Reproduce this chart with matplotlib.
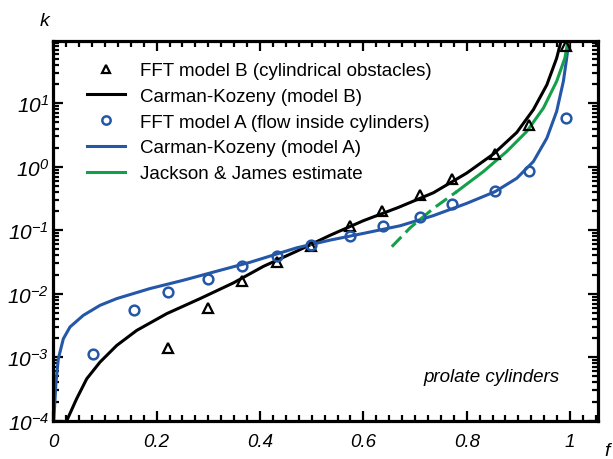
import numpy as np
import matplotlib
matplotlib.use('Agg')
import matplotlib.pyplot as plt
from matplotlib.ticker import MultipleLocator, LogLocator, NullFormatter, FixedLocator, FixedFormatter
from matplotlib.lines import Line2D

plt.rcParams['font.family'] = ['Liberation Sans', 'DejaVu Sans']
plt.rcParams['font.style'] = 'italic'
plt.rcParams['mathtext.fontset'] = 'custom'
plt.rcParams['mathtext.it'] = 'Liberation Sans:italic'
plt.rcParams['mathtext.rm'] = 'Liberation Sans:italic'
plt.rcParams['mathtext.default'] = 'regular'

# FFT results, model B (cylindrical obstacles)
f_fft_b = [0.222, 0.299, 0.365, 0.433, 0.498, 0.575, 0.636, 0.710, 0.772, 0.854, 0.921, 0.993]
k_fft_b = [1.41e-3, 6.0e-3, 1.59e-2, 0.0318, 0.0569, 0.116, 0.200, 0.359, 0.634, 1.57, 4.48, 79.0]

# FFT results, model A (flow inside cylinders)
f_fft_a = [0.076, 0.156, 0.222, 0.299, 0.365, 0.433, 0.498, 0.575, 0.638, 0.710, 0.772, 0.854, 0.921, 0.993]
k_fft_a = [1.13e-3, 5.47e-3, 0.0107, 0.0173, 0.0275, 0.039, 0.058, 0.0798, 0.116, 0.163, 0.256, 0.415, 0.86, 5.83]

# Carman-Kozeny curves (f, log10 k)
f_ck_b = [0.022, 0.026, 0.045, 0.0646, 0.0904, 0.1227, 0.1614, 0.2195, 0.284, 0.3484, 0.4064,
          0.471, 0.5355, 0.6, 0.668, 0.7355, 0.80, 0.8516, 0.8968, 0.929, 0.955, 0.974, 0.984, 0.988]
lk_ck_b = [-4.1, -4.0, -3.657, -3.341, -3.077, -2.815, -2.578, -2.314, -2.077, -1.83, -1.57,
           -1.33, -1.08, -0.85, -0.64, -0.41, -0.10, 0.20, 0.54, 0.90, 1.29, 1.71, 2.03, 2.2]

f_ck_a = [0.0002, 0.0052, 0.0097, 0.0194, 0.0323, 0.058, 0.0904, 0.1227, 0.187, 0.2516, 0.316,
          0.3807, 0.471, 0.5355, 0.6, 0.671, 0.7355, 0.80, 0.855, 0.8968, 0.929, 0.955, 0.974,
          0.987, 0.9935, 0.998, 0.999]
lk_ck_a = [-4.1, -3.393, -3.025, -2.71, -2.524, -2.341, -2.183, -2.077, -1.919, -1.788, -1.646,
           -1.505, -1.277, -1.156, -1.05, -0.93, -0.77, -0.577, -0.392, -0.182, 0.082, 0.45, 0.872,
           1.346, 1.714, 2.03, 2.2]

# Jackson & James estimate (dashed below f ~ 0.78)
f_jj = [0.655, 0.6907, 0.7355, 0.7807, 0.8322, 0.8774, 0.9161, 0.9484, 0.974, 0.99, 0.9968, 0.998]
lk_jj = [-1.26, -0.96, -0.656, -0.392, -0.076, 0.24, 0.556, 0.924, 1.346, 1.714, 2.03, 2.2]
n_dashed = 4

y_decades = [1e-4, 1e-3, 1e-2, 1e-1, 1e0, 1e1]

blue = '#2457a8'
green = '#14a04a'

fig = plt.figure(figsize=(6.13, 4.6), dpi=100)
ax = fig.add_axes([53.3 / 613, 1 - 421.7 / 460, 544.7 / 613, 380 / 460])

ax.plot(f_ck_b, 10 ** np.array(lk_ck_b), color='black', lw=2.2)
ax.plot(f_ck_a, 10 ** np.array(lk_ck_a), color=blue, lw=2.2)
ax.plot(f_jj[:n_dashed], 10 ** np.array(lk_jj[:n_dashed]), color=green, lw=2.2, ls=(0, (4.5, 2)))
ax.plot(f_jj[n_dashed - 1:], 10 ** np.array(lk_jj[n_dashed - 1:]), color=green, lw=2.2)
ax.plot(f_fft_b, k_fft_b, ls='none', marker='^', ms=6.5, mfc='none', mec='black', mew=1.6)
ax.plot(f_fft_a, k_fft_a, ls='none', marker='o', ms=7, mfc='none', mec=blue, mew=1.8)

ax.set_yscale('log')
ax.set_xlim(0, 1.054)
ax.set_ylim(1e-4, 10 ** 1.985)

ax.xaxis.set_major_locator(FixedLocator([0, 0.2, 0.4, 0.6, 0.8, 1.0]))
ax.xaxis.set_major_formatter(FixedFormatter(['0', '0.2', '0.4', '0.6', '0.8', '1']))
ax.xaxis.set_minor_locator(MultipleLocator(0.025))
ax.yaxis.set_major_locator(FixedLocator(y_decades))
ax.yaxis.set_minor_locator(LogLocator(base=10, subs=np.arange(2, 10), numticks=20))
ax.yaxis.set_minor_formatter(NullFormatter())

ax.tick_params(which='both', direction='in', top=True, right=True, width=1.6)
ax.tick_params(which='major', length=7.5)
ax.tick_params(which='minor', length=4.5)
ax.tick_params(axis='x', pad=9, labelsize=13.5)
ax.tick_params(axis='y', pad=3, labelsize=15)
for s in ax.spines.values():
    s.set_linewidth(2.3)

handles = [
    Line2D([], [], ls='none', marker='^', ms=5.5, mfc='none', mec='black', mew=1.6),
    Line2D([], [], color='black', lw=2.2),
    Line2D([], [], ls='none', marker='o', ms=6, mfc='none', mec=blue, mew=1.8),
    Line2D([], [], color=blue, lw=2.2),
    Line2D([], [], color=green, lw=2.2),
]
labels = ['FFT model B (cylindrical obstacles)', 'Carman-Kozeny (model B)',
          'FFT model A (flow inside cylinders)', 'Carman-Kozeny (model A)',
          'Jackson & James estimate']
fig.legend(handles, labels, loc='upper left', bbox_to_anchor=(87 / 613, 1 - 63 / 460),
           frameon=False, prop={'size': 13.5, 'style': 'normal'}, handlelength=2.0,
           handletextpad=0.8, labelspacing=0.46, borderpad=0, borderaxespad=0)

ax.text(0.930, 0.1176, 'prolate cylinders', transform=ax.transAxes, ha='right', va='center',
        fontsize=13.5)
fig.text(45 / 613, 1 - 22 / 460, 'k', ha='center', va='center', fontsize=14)
fig.text(607 / 613, 1 - 452 / 460, 'f', ha='center', va='center', fontsize=14)

fig.savefig('out.png', dpi=100)
